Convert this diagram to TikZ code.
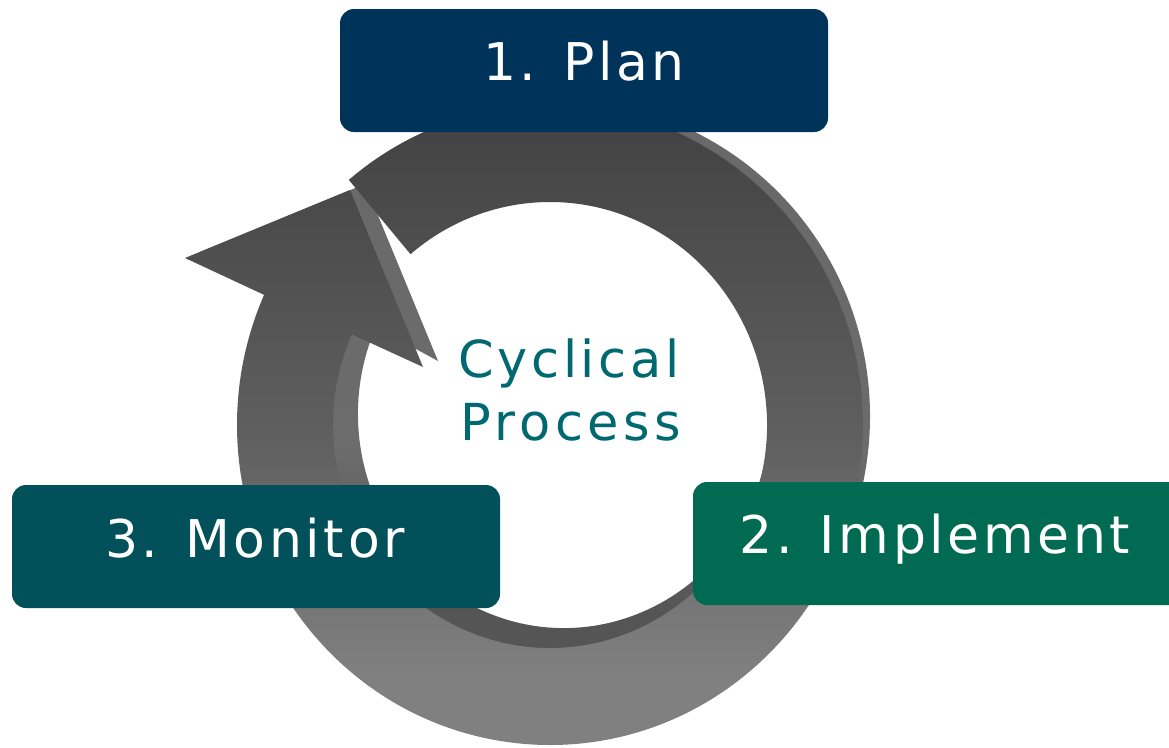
\documentclass[tikz,border=0pt]{standalone}
\usepackage{fontspec}
\newfontfamily\lblfont[LetterSpace=7]{DejaVu Sans}
\definecolor{plancol}{HTML}{00335A}
\definecolor{moncol}{HTML}{025059}
\definecolor{impcol}{HTML}{006A53}
\definecolor{tealtxt}{HTML}{006870}
\definecolor{faceTop}{HTML}{3E3E3E}
\definecolor{faceMid}{HTML}{5E5E5E}
\definecolor{faceBot}{HTML}{808080}
\definecolor{wallTop}{HTML}{686868}
\definecolor{wallMid}{HTML}{6C6C6C}
\definecolor{wallBot}{HTML}{555555}
% TikZ maps the path's box onto the 25bp..75bp part of the shading
\pgfdeclareverticalshading{ringfaceshade}{100bp}{color(0bp)=(faceBot); color(32.5bp)=(faceBot); color(50bp)=(faceMid); color(75bp)=(faceTop); color(100bp)=(faceTop)}
\pgfdeclareverticalshading{ringwallshade}{100bp}{color(0bp)=(wallBot); color(35bp)=(wallBot); color(47.5bp)=(wallMid); color(75bp)=(wallTop); color(100bp)=(wallTop)}
\tikzset{
  facefill/.style={shading=ringfaceshade},
  wallfill/.style={shading=ringwallshade},
  stagebox/.style={rounded corners=14pt, inner sep=0pt, minimum height=123pt, draw=none},
  stagelabel/.style={text=white, font=\lblfont\fontsize{52}{60}\selectfont, anchor=base, inner sep=0pt},
  centrelabel/.style={text=tealtxt, font=\lblfont\fontsize{51}{60}\selectfont, anchor=base, inner sep=0pt}
}
\begin{document}
\begin{tikzpicture}[x=1pt,y=-1pt]
\useasboundingbox (0,0) rectangle (1169,747);
% back (extruded walls)
\coordinate (wallout) at (530.8,101.2);
\coordinate (wallin) at (375.8,327);
\shade[wallfill] (wallout) arc[start angle=-95,end angle=204,x radius=312,y radius=316]
  -- (200,252) -- (365,184) -- (438,361)
  -- (wallin) arc[start angle=204,end angle=-95,x radius=206,y radius=214] -- cycle;
% front face
\begin{scope}[shift={(550,425)}]
\shade[facefill] (-130:313 and 320) arc[start angle=-130,end angle=204,x radius=313,y radius=320]
  -- (-365,-167) -- (-200,-235) -- (-127,-58)
  -- (204:217 and 223) arc[start angle=204,end angle=-130,x radius=217,y radius=223] -- cycle;
\end{scope}
% boxes
\node[stagebox, fill=plancol, minimum width=488pt] (planbox) at (584,70.5) {};
\node[stagebox, fill=moncol, minimum width=488pt] (monbox) at (256,546.5) {};
\node[stagebox, fill=impcol, minimum width=492pt] (impbox) at (939,543.5) {};
% labels
\node[stagelabel] (plan) at (584,80) {1. Plan};
\node[stagelabel] (mon) at (255,557) {3. Monitor};
\node[stagelabel] (imp) at (935,553) {2. Implement};
\node[centrelabel] (cyc) at (569,377) {Cyclical};
\node[centrelabel] (proc) at (571,440) {\addfontfeature{LetterSpace=9}Process};
\end{tikzpicture}
\end{document}
